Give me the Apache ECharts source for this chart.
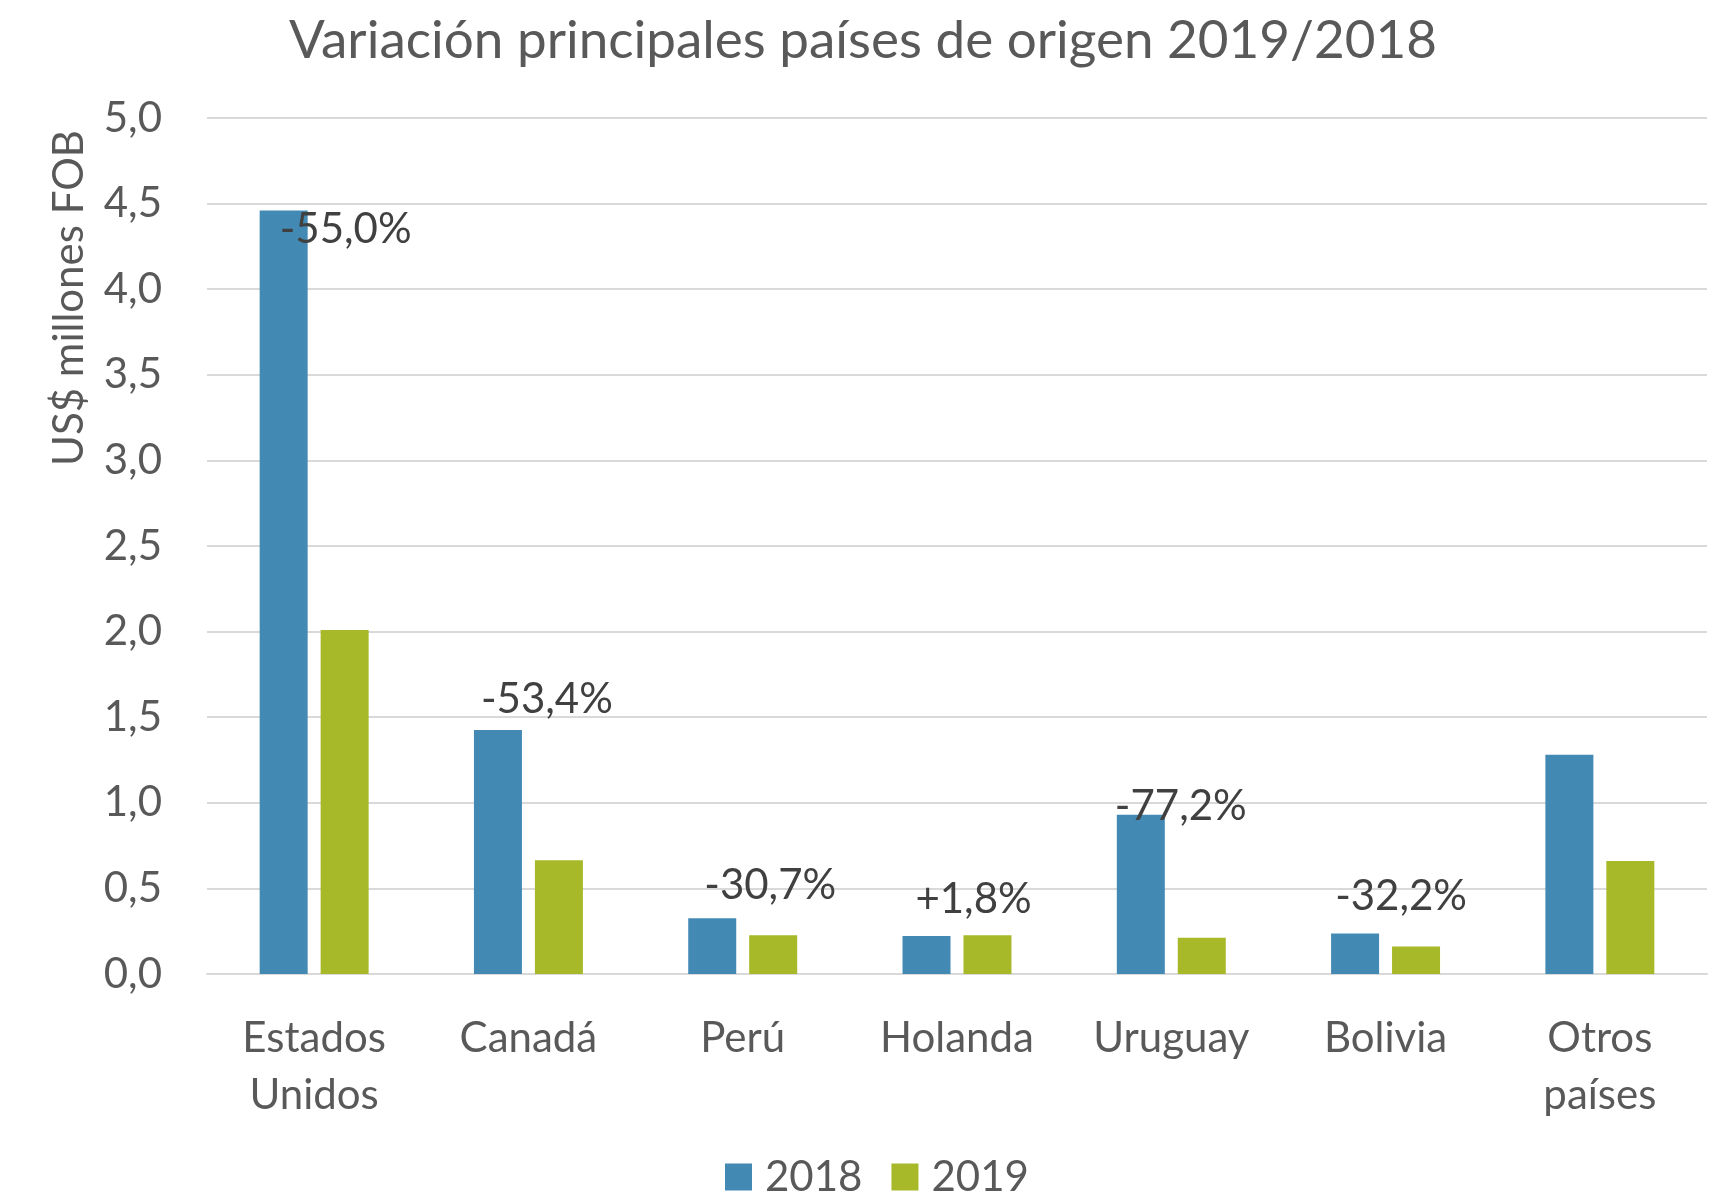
<!DOCTYPE html>
<html>
<head>
<meta charset="utf-8">
<script src="https://cdn.jsdelivr.net/npm/echarts@6/dist/echarts.min.js"></script>
<style>
  html, body { margin: 0; padding: 0; background: #fff; }
  #chart { width: 1726px; height: 1198px; }
</style>
</head>
<body>
<div id="chart"></div>
<script>
// data
const paises = ['Estados\nUnidos', 'Canadá', 'Perú', 'Holanda', 'Uruguay', 'Bolivia', 'Otros\npaíses']
const valores2018 = [4.46, 1.425, 0.326, 0.222, 0.93, 0.236, 1.281]
const valores2019 = [2.01, 0.664, 0.226, 0.226, 0.212, 0.160, 0.660]
const variacion = ['-55,0%', '-53,4%', '-30,7%', '+1,8%', '-77,2%', '-32,2%', '']

// where each variation label sits relative to the 2018 bar top
const labelOffsets = [[62, 40], [49, -10], [58, -12], [47, -16], [40, 13], [46, -16], [0, 0]]

const FONT = 'Lato'
const textGrey = '#595959'

const chart = echarts.init(document.getElementById('chart'), null, { renderer: 'canvas' })

chart.setOption({
  animation: false,
  backgroundColor: '#fff',
  title: {
    text: 'Variación principales países de origen 2019/2018',
    left: 'center',
    top: 14,
    padding: 0,
    textStyle: {
      fontFamily: FONT,
      fontSize: 53,
      fontWeight: 'normal',
      color: textGrey,
      lineHeight: 53
    }
  },
  grid: {
    left: 207,
    right: 19,
    top: 118,
    bottom: 224
  },
  legend: {
    data: ['2018', '2019'],
    left: 725,
    top: 1156,
    padding: 0,
    itemWidth: 27,
    itemHeight: 27,
    itemGap: 29,
    icon: 'rect',
    textStyle: {
      fontFamily: FONT,
      fontSize: 42,
      lineHeight: 42,
      color: textGrey,
      padding: [0, 0, 0, 8]
    }
  },
  graphic: [
    {
      type: 'text',
      x: 69,
      y: 298,
      rotation: Math.PI / 2,
      style: {
        text: 'US$ millones FOB',
        fontFamily: FONT,
        fontSize: 42,
        fill: textGrey,
        align: 'center',
        verticalAlign: 'middle'
      }
    }
  ],
  xAxis: {
    type: 'category',
    data: paises,
    axisTick: { show: false },
    axisLine: { lineStyle: { color: '#d9d9d9', width: 2 } },
    axisLabel: {
      fontFamily: FONT,
      fontSize: 42,
      lineHeight: 57,
      color: textGrey,
      margin: 36,
      interval: 0
    }
  },
  yAxis: {
    type: 'value',
    min: 0,
    max: 5,
    interval: 0.5,
    axisLine: { show: false },
    axisTick: { show: false },
    splitLine: { lineStyle: { color: '#d9d9d9', width: 2 } },
    axisLabel: {
      fontFamily: FONT,
      fontSize: 42,
      color: textGrey,
      margin: 45,
      formatter: (v) => v.toFixed(1).replace('.', ',')
    }
  },
  series: [
    {
      name: '2018',
      type: 'bar',
      data: valores2018,
      barWidth: 48,
      barGap: '27%',
      itemStyle: { color: '#4289b4' },
      label: {
        show: true,
        position: 'top',
        distance: 0,
        fontFamily: FONT,
        fontSize: 42,
        lineHeight: 42,
        color: '#404040',
        formatter: (p) => variacion[p.dataIndex]
      },
      labelLayout: (params) => {
        const off = labelOffsets[params.dataIndex]
        return {
          x: params.labelRect.x + params.labelRect.width / 2 + off[0],
          y: params.labelRect.y + params.labelRect.height / 2 + off[1],
          align: 'center',
          verticalAlign: 'middle'
        }
      }
    },
    {
      name: '2019',
      type: 'bar',
      data: valores2019,
      barWidth: 48,
      itemStyle: { color: '#a7b828' }
    }
  ]
})
</script>
</body>
</html>
